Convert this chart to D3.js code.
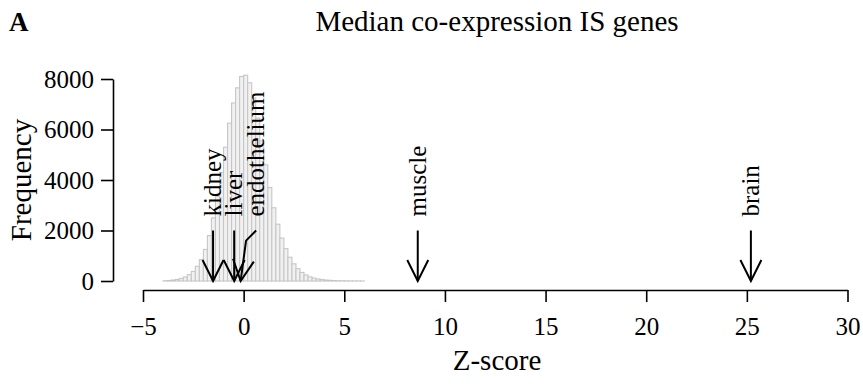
<!DOCTYPE html>
<html>
<head>
<meta charset="utf-8">
<script src="https://cdn.jsdelivr.net/npm/d3@7"></script>
<style>
  html, body { margin: 0; padding: 0; background: #fff; }
  svg { display: block; font-family: "Liberation Serif", "DejaVu Serif", serif; }
</style>
</head>
<body>
<svg id="chart" width="863" height="386"></svg>
<script>
// Histogram of median co-expression Z-scores (bins of width 0.2 from -4 to 6)
const binStart = -4;
const binWidth = 0.2;
const binCounts = [
  10, 20, 40, 60, 100, 160, 250, 380, 580, 850,
  1250, 1800, 2500, 3350, 4300, 5300, 6250, 7050, 7650, 8100,
  8150, 7850, 7250, 6450, 5550, 4600, 3700, 2900, 2250, 1700,
  1280, 940, 680, 490, 340, 240, 165, 115, 80, 55,
  38, 26, 18, 12, 9, 6, 4, 3, 2, 1
];

// Tissue Z-scores marked with arrows, and where their labels sit
const tissues = ["kidney", "liver", "endothelium", "muscle", "brain"];
const tissueZ = [-1.52, -0.47, -0.15, 8.65, 25.2];
const labelZ = [-1.52, -0.47, 0.62, 8.65, 25.2];
const arrowTop = 2000;      // arrows start at this frequency level
const elbowFreq = [null, null, 1600, null, null];
const elbowZ = [null, null, 0.12, null, null];

const xTicks = [-5, 0, 5, 10, 15, 20, 25, 30];
const yTicks = [0, 2000, 4000, 6000, 8000];

const titleText = "Median co-expression IS genes";
const panelLetter = "A";
const xTitle = "Z-score";
const yTitle = "Frequency";

const svg = d3.select("#chart");

const x = d3.scaleLinear().domain([-5, 30]).range([143, 847.5]);
const y = d3.scaleLinear().domain([0, 8000]).range([281, 79]);

// histogram bars
const bins = binCounts.map((c, i) => ({ x0: binStart + i * binWidth, x1: binStart + (i + 1) * binWidth, count: c }));
svg.append("g")
  .selectAll("rect")
  .data(bins)
  .join("rect")
  .attr("x", d => x(d.x0))
  .attr("y", d => y(d.count))
  .attr("width", d => x(d.x1) - x(d.x0))
  .attr("height", d => y(0) - y(d.count))
  .attr("fill", "#f1f1f1")
  .attr("stroke", "#c6c6c6")
  .attr("stroke-width", 1.1);

// axes
const xAxis = svg.append("g")
  .attr("transform", "translate(0,290)")
  .call(d3.axisBottom(x).tickValues(xTicks).tickSize(12).tickSizeOuter(0).tickPadding(15));
const yAxis = svg.append("g")
  .attr("transform", "translate(113,0)")
  .call(d3.axisLeft(y).tickValues(yTicks).tickSize(12).tickSizeOuter(0).tickPadding(7).tickFormat(d3.format("d")));

[xAxis, yAxis].forEach(g => {
  g.selectAll("path.domain").attr("stroke", "#000").attr("stroke-width", 1.6);
  g.selectAll(".tick line").attr("stroke", "#000").attr("stroke-width", 1.6);
  g.selectAll(".tick text")
    .attr("fill", "#000")
    .style("font-family", "'Liberation Serif', serif")
    .style("font-size", "25px");
});

// arrows
const headLen = 21, headHalf = 10.5;
function arrowHead(x1, y1, x2, y2) {
  const ang = Math.atan2(y2 - y1, x2 - x1);
  const back = ang + Math.PI;
  const spread = Math.atan2(headHalf, headLen);
  const len = Math.hypot(headLen, headHalf);
  const a = [x2 + len * Math.cos(back - spread), y2 + len * Math.sin(back - spread)];
  const b = [x2 + len * Math.cos(back + spread), y2 + len * Math.sin(back + spread)];
  return `M${a[0]},${a[1]}L${x2},${y2}L${b[0]},${b[1]}`;
}

const arrows = svg.append("g");
tissues.forEach((name, i) => {
  const pts = [[x(labelZ[i]), y(arrowTop)]];
  if (elbowZ[i] !== null) pts.push([x(elbowZ[i]), y(elbowFreq[i])]);
  pts.push([x(tissueZ[i]), y(0)]);
  arrows.append("path")
    .attr("d", d3.line()(pts))
    .attr("fill", "none")
    .attr("stroke", "#000")
    .attr("stroke-width", 2);
  const p1 = pts[pts.length - 2], p2 = pts[pts.length - 1];
  arrows.append("path")
    .attr("d", arrowHead(p1[0], p1[1], p2[0], p2[1]))
    .attr("fill", "none")
    .attr("stroke", "#000")
    .attr("stroke-width", 2);
  // rotated label above the arrow, reading upward
  const lx = x(labelZ[i]), ly = y(arrowTop) - 14;
  arrows.append("text")
    .attr("transform", `translate(${lx},${ly}) rotate(-90)`)
    .attr("dy", "0.32em")
    .attr("text-anchor", "start")
    .style("font-size", "25px")
    .attr("fill", "#000")
    .text(name);
});

// titles
svg.append("text")
  .attr("x", 9).attr("y", 31)
  .style("font-size", "27px").style("font-weight", "bold")
  .text(panelLetter);

svg.append("text")
  .attr("x", 497).attr("y", 31)
  .attr("text-anchor", "middle")
  .style("font-size", "29px")
  .text(titleText);

svg.append("text")
  .attr("x", 497).attr("y", 370)
  .attr("text-anchor", "middle")
  .style("font-size", "29px")
  .text(xTitle);

svg.append("text")
  .attr("transform", "translate(31,180) rotate(-90)")
  .attr("text-anchor", "middle")
  .style("font-size", "29px")
  .text(yTitle);
</script>
</body>
</html>
